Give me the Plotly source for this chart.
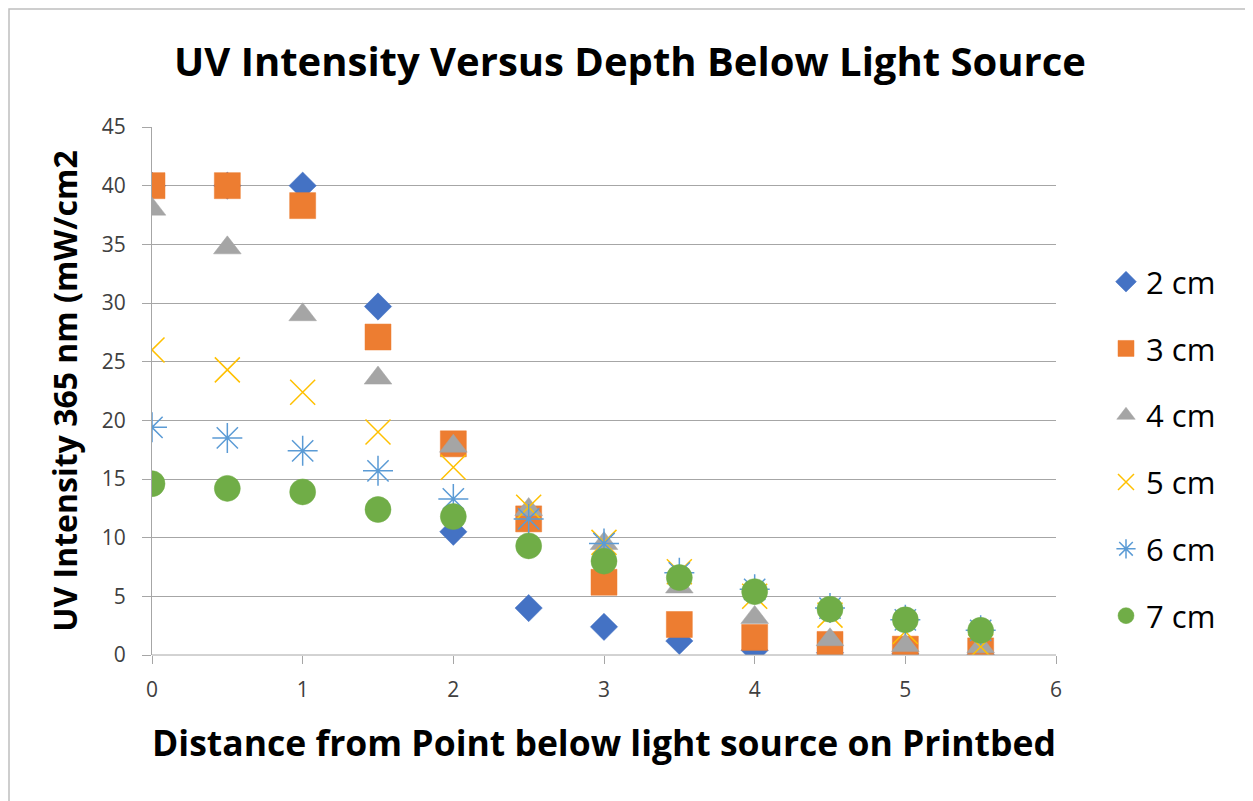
import plotly.graph_objects as go

distance = [0, 0.5, 1, 1.5, 2, 2.5, 3, 3.5, 4, 4.5, 5, 5.5]

series_names = ["2 cm", "3 cm", "4 cm", "5 cm", "6 cm", "7 cm"]
cm2 = [40, 40, 40, 29.7, 10.5, 4.0, 2.4, 1.2, 0.4, 0.2, 0.1, 0.05]
cm3 = [40, 40, 38.3, 27.1, 18.0, 11.6, 6.2, 2.6, 1.5, 0.9, 0.5, 0.35]
cm4 = [38.0, 34.7, 29.0, 23.6, 17.8, 12.4, 9.5, 5.8, 3.2, 1.3, 0.8, 0.7]
cm5 = [26.0, 24.3, 22.4, 19.0, 16.0, 12.6, 9.6, 7.1, 5.0, 3.4, 2.0, 0.7]
cm6 = [19.4, 18.5, 17.4, 15.7, 13.3, 11.6, 9.5, 7.0, 5.6, 4.0, 3.0, 2.1]
cm7 = [14.6, 14.2, 13.9, 12.4, 11.8, 9.3, 8.0, 6.6, 5.4, 3.9, 3.0, 2.1]

y_ticks = [0, 5, 10, 15, 20, 25, 30, 35, 40, 45]
x_ticks = [0, 1, 2, 3, 4, 5, 6]

values = [cm2, cm3, cm4, cm5, cm6, cm7]
colors = ["#4472C4", "#ED7D31", "#A5A5A5", "#FFC000", "#5B9BD5", "#70AD47"]
symbols = ["diamond", "square", "triangle-up", "x-thin-open", "asterisk-open", "circle"]
sizes = [21, 26, 24, 25, 25, 26]

fig = go.Figure()
for i, (name, vals) in enumerate(zip(series_names, values)):
    open_sym = symbols[i].endswith("open")
    fig.add_trace(go.Scatter(
        x=distance, y=vals, mode="markers", name=name, legendgroup=name,
        marker=dict(
            symbol=symbols[i], size=sizes[i], color=colors[i],
            line=dict(color=colors[i], width=1.5 if open_sym else 0.5),
        ),
    ))

# page body has an 8px margin; target plot area: x 152..1056, y 127..655
OFF = 8
W, H = 1245, 793
PL, PR, PT, PB = 152, 1056, 127, 655
PW, PH = PR - PL, PB - PT

def px(x):
    return (x - PL) / PW

def py(y):
    return (PB - y) / PH

FONT = "Open Sans"
fig.update_layout(
    width=W, height=H,
    paper_bgcolor="white", plot_bgcolor="white",
    margin=dict(l=PL - OFF, r=OFF + W - PR, t=PT - OFF, b=OFF + H - PB),
    font=dict(family=FONT, color="#000000"),
    title=dict(
        text="<b>UV Intensity Versus Depth Below Light Source</b>",
        x=px(630), xref="paper", xanchor="center",
        y=1 - (62 - OFF) / H, yanchor="middle",
        font=dict(size=40, family=FONT, color="#000000"),
    ),
    showlegend=True,
    legend=dict(
        x=px(1106), xanchor="left", y=py(255), yanchor="top",
        font=dict(size=31, family=FONT, color="#000000"),
        tracegroupgap=23.5, bgcolor="rgba(0,0,0,0)",
    ),
    xaxis=dict(
        range=[0, 6], tickvals=x_ticks, showgrid=False, zeroline=False,
        showline=False, ticks="outside", ticklen=8, tickcolor="#A6A6A6",
        ticklabelstandoff=8,
        tickfont=dict(size=21, color="#404040"),
        title=dict(text="<b>Distance from Point below light source on Printbed</b>",
                   font=dict(size=35.5, color="#000000"), standoff=28),
    ),
    yaxis=dict(
        range=[0, 45], tickvals=y_ticks, showgrid=True, gridcolor="#A6A6A6",
        gridwidth=1, zeroline=False, showline=True, linecolor="#A6A6A6",
        ticks="outside", ticklen=9, tickcolor="#A6A6A6",
        ticklabelstandoff=12,
        tickfont=dict(size=21, color="#404040"),
        title=dict(text="<b>UV Intensity 365 nm (mW/cm2</b>",
                   font=dict(size=32, color="#000000"), standoff=14),
    ),
    shapes=[
        dict(type="line", xref="paper", yref="paper",
             x0=0, x1=1, y0=0, y1=0, line=dict(color="#A6A6A6", width=1)),
        dict(type="rect", xref="paper", yref="paper",
             x0=px(OFF + 1), x1=px(1275),
             y0=py(820), y1=py(OFF + 1),
             line=dict(color="#BFBFBF", width=1.5), layer="below"),
    ],
)

fig.write_html("out.html")
